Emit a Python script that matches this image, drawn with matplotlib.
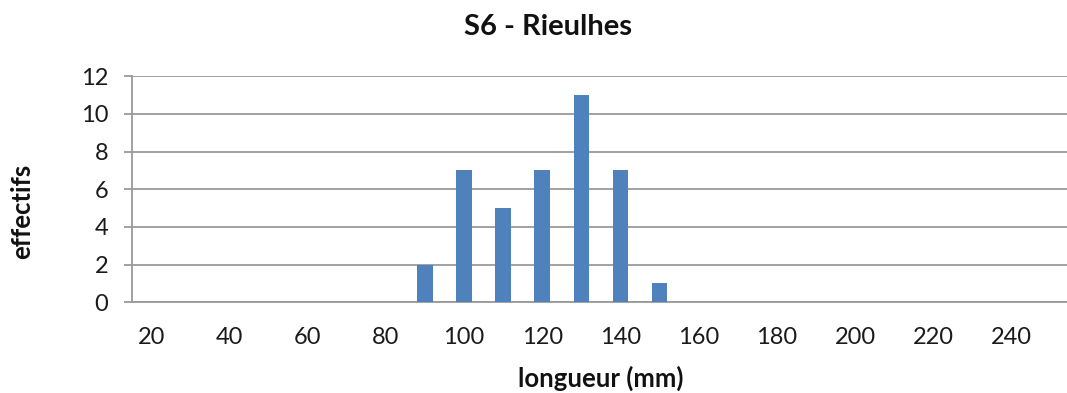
import matplotlib
matplotlib.use("Agg")
import matplotlib.pyplot as plt
import numpy as np

# Length classes (mm) and counts per class
longueurs = [20, 30, 40, 50, 60, 70, 80, 90, 100, 110, 120, 130,
             140, 150, 160, 170, 180, 190, 200, 210, 220, 230, 240, 250]
effectifs = [0, 0, 0, 0, 0, 0, 0, 2, 7, 5, 7, 11,
             7, 1, 0, 0, 0, 0, 0, 0, 0, 0, 0, 0]
y_ticks = [0, 2, 4, 6, 8, 10, 12]
titre = "S6 - Rieulhes"
label_x = "longueur (mm)"
label_y = "effectifs"

plt.rcParams['font.family'] = ['Lato', 'DejaVu Sans']

W, H = 1067, 393
fig = plt.figure(figsize=(W / 100, H / 100), dpi=100)
ax = fig.add_axes([131.7 / W, 1 - 302.3 / H, 24 * 39.1 / W, 226 / H])

pos = np.arange(len(longueurs))
ax.bar(pos, effectifs, width=0.4, color='#4F81BD', zorder=3)

ax.set_xlim(-0.5, len(longueurs) - 0.5)
ax.set_ylim(0, 12)
ax.set_yticks(y_ticks)
ax.set_xticks(pos[::2])
ax.set_xticklabels([str(v) for v in longueurs[::2]])

grid_col = '#9a9a9a'
ax.yaxis.grid(True, color=grid_col, linewidth=1.3, zorder=0)
ax.set_axisbelow(True)
for s in ['top', 'right']:
    ax.spines[s].set_visible(False)
ax.spines['left'].set_color(grid_col)
ax.spines['bottom'].set_color(grid_col)
ax.spines['left'].set_linewidth(1.3)
ax.spines['bottom'].set_linewidth(1.3)

ax.tick_params(axis='y', length=6, width=1.3, color=grid_col, pad=11,
               labelsize=17, labelcolor='#1a1a1a')
ax.tick_params(axis='x', length=0, pad=18, labelsize=17, labelcolor='#1a1a1a')

fig.text(548 / W, 1 - 27 / H, titre, ha='center', va='center',
         fontsize=21, fontweight='bold', color='#111111')
fig.text(601 / W, 1 - 378 / H, label_x, ha='center', va='center',
         fontsize=18.5, fontweight='bold', color='#111111')
fig.text(22 / W, 1 - 211 / H, label_y, ha='center', va='center',
         rotation=90, fontsize=18.5, fontweight='bold', color='#111111')

fig.savefig('out.png', dpi=100)
